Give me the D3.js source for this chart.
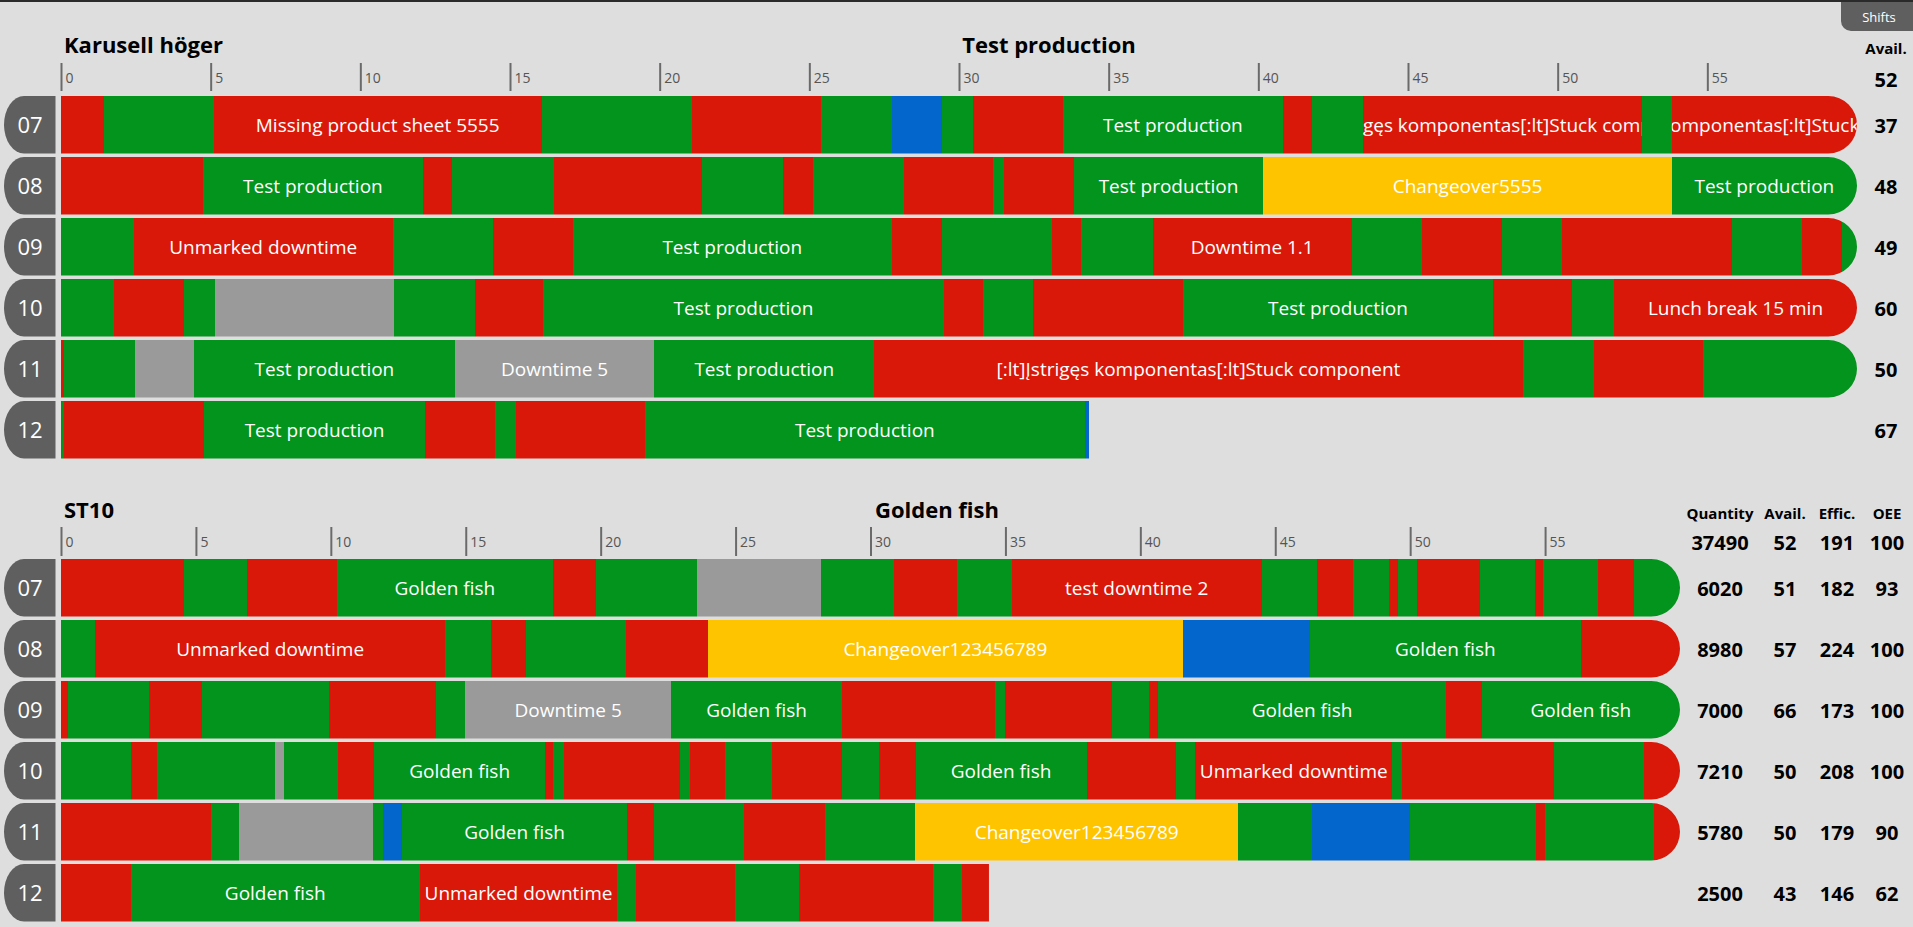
<!DOCTYPE html>
<html><head><meta charset="utf-8">
<script src="https://cdn.jsdelivr.net/npm/d3@7"></script>
<style>
html,body{margin:0;padding:0;background:#dedede;overflow:hidden;}
svg{display:block;font-family:"Open Sans","Noto Sans",sans-serif;}
</style></head><body>
<svg id="chart" width="1913" height="927"></svg>
<script>
// ---------- DATA ----------
const hours = ["07","08","09","10","11","12"];
const tickValues = [0,5,10,15,20,25,30,35,40,45,50,55];
const stateColors = {P:"#02941c", D:"#d9180a", C:"#ffc400", M:"#0366cc", S:"#9a9a9a"};
const TP = "Test production", GF = "Golden fish", UD = "Unmarked downtime";
const STUCK = "[:lt]Įstrigęs komponentas[:lt]Stuck component";

// Karusell höger – segments [startMin, endMin, state, label]
const k07 = [[0,1.44,"D"],[1.44,5.1,"P"],[5.1,16.06,"D","Missing product sheet 5555"],[16.06,21.07,"P"],[21.07,25.4,"D"],[25.4,27.76,"P"],[27.76,29.42,"M"],[29.42,30.46,"P"],[30.46,33.47,"D"],[33.47,40.82,"P",TP],[40.82,41.78,"D"],[41.78,43.48,"P"],[43.48,52.81,"D",STUCK],[52.81,53.81,"P"],[53.81,60,"D",STUCK]];
const k08 = [[0,4.74,"D"],[4.74,12.09,"P",TP],[12.09,13.07,"D"],[13.07,16.46,"P"],[16.46,21.43,"D"],[21.43,24.12,"P"],[24.12,25.12,"D"],[25.12,28.15,"P"],[28.15,31.13,"D"],[31.13,31.5,"P"],[31.5,33.83,"D"],[33.83,40.17,"P",TP],[40.17,53.81,"C","Changeover5555"],[53.81,60,"P",TP]];
const k09 = [[0,2.43,"P"],[2.43,11.08,"D",UD],[11.08,14.42,"P"],[14.42,17.09,"D"],[17.09,27.76,"P",TP],[27.76,29.42,"D"],[29.42,33.12,"P"],[33.12,34.08,"D"],[34.08,36.47,"P"],[36.47,43.12,"D","Downtime 1.1"],[43.12,45.46,"P"],[45.46,48.13,"D"],[48.13,50.14,"P"],[50.14,55.82,"D"],[55.82,58.16,"P"],[58.16,59.49,"D"],[59.49,60,"P"]];
const k10 = [[0,1.77,"P"],[1.77,4.1,"D"],[4.1,5.14,"P"],[5.14,11.12,"S"],[11.12,13.82,"P"],[13.82,16.11,"D"],[16.11,29.49,"P",TP],[29.49,30.81,"D"],[30.81,32.48,"P"],[32.48,37.48,"D"],[37.48,47.84,"P",TP],[47.84,50.49,"D"],[50.49,51.88,"P"],[51.88,60,"D","Lunch break 15 min"]];
const k11 = [[0,0.1,"D"],[0.1,2.48,"P"],[2.48,4.44,"S"],[4.44,13.16,"P",TP],[13.16,19.82,"S","Downtime 5"],[19.82,27.17,"P",TP],[27.17,48.83,"D",STUCK],[48.83,51.21,"P"],[51.21,54.85,"D"],[54.85,60,"P"]];
const k12 = [[0,0.1,"P"],[0.1,4.78,"D"],[4.78,12.16,"P",TP],[12.16,14.49,"D"],[14.49,15.2,"P"],[15.2,19.5,"D"],[19.5,34.21,"P",TP],[34.21,34.35,"M"]];
const karusellAvailTotal = 52;
const karusellAvail = [37,48,49,60,50,67];

// ST10
const s07 = [[0,4.55,"D"],[4.55,6.91,"P"],[6.91,10.23,"D"],[10.23,18.22,"P",GF],[18.22,19.84,"D"],[19.84,23.57,"P"],[23.57,28.18,"S"],[28.18,30.87,"P"],[30.87,33.21,"D"],[33.21,35.23,"P"],[35.23,44.5,"D","test downtime 2"],[44.5,46.56,"P"],[46.56,47.89,"D"],[47.89,49.22,"P"],[49.22,49.54,"D"],[49.54,50.27,"P"],[50.27,52.59,"D"],[52.59,54.61,"P"],[54.61,54.92,"D"],[54.92,56.97,"P"],[56.97,58.3,"D"],[58.3,60,"P"]];
const s08 = [[0,1.26,"P"],[1.26,14.24,"D",UD],[14.24,15.93,"P"],[15.93,17.25,"D"],[17.25,20.93,"P"],[20.93,23.97,"D"],[23.97,41.58,"C","Changeover123456789"],[41.58,46.27,"M"],[46.27,56.34,"P",GF],[56.34,60,"D"]];
const s09 = [[0,0.25,"D"],[0.25,3.25,"P"],[3.25,5.24,"D"],[5.24,9.92,"P"],[9.92,13.91,"D"],[13.91,14.98,"P"],[14.98,22.61,"S","Downtime 5"],[22.61,28.95,"P",GF],[28.95,34.61,"D"],[34.61,34.99,"P"],[34.99,38.95,"D"],[38.95,40.32,"P"],[40.32,40.66,"D"],[40.66,51.33,"P",GF],[51.33,52.65,"D"],[52.65,60,"P",GF]];
const s10 = [[0,2.59,"P"],[2.59,3.56,"D"],[3.56,7.93,"P"],[7.93,8.27,"S"],[8.27,10.27,"P"],[10.27,11.61,"D"],[11.61,17.94,"P",GF],[17.94,18.25,"D"],[18.25,18.63,"P"],[18.63,22.94,"D"],[22.94,23.32,"P"],[23.32,24.62,"D"],[24.62,26.34,"P"],[26.34,28.96,"D"],[28.96,30.33,"P"],[30.33,31.67,"D"],[31.67,38.01,"P",GF],[38.01,41.32,"D"],[41.32,42.04,"P"],[42.04,49.33,"D",UD],[49.33,49.69,"P"],[49.69,55.34,"D"],[55.34,58.66,"P"],[58.66,60,"D"]];
const s11 = [[0,5.56,"D"],[5.56,6.6,"P"],[6.6,11.56,"S"],[11.56,11.93,"P"],[11.93,12.64,"M"],[12.64,20.98,"P",GF],[20.98,21.98,"D"],[21.98,25.32,"P"],[25.32,28.31,"D"],[28.31,31.65,"P"],[31.65,43.63,"C","Changeover123456789"],[43.63,46.35,"P"],[46.35,50,"M"],[50,54.67,"P"],[54.67,54.98,"D"],[54.98,59.02,"P"],[59.02,60,"D"]];
const s12 = [[0,2.59,"D"],[2.59,13.29,"P",GF],[13.29,20.62,"D",UD],[20.62,21.31,"P"],[21.31,24.98,"D"],[24.98,27.36,"P"],[27.36,32.33,"D"],[32.33,33.39,"P"],[33.39,34.39,"D"]];
const st10Columns = ["Quantity","Avail.","Effic.","OEE"];
const st10Totals = [37490,52,191,100];
const st10Quantity = [6020,8980,7000,7210,5780,2500];
const st10Avail = [51,57,66,50,50,43];
const st10Effic = [182,224,173,208,179,146];
const st10OEE = [93,100,100,100,90,62];

// ---------- DRAW ----------
const svg = d3.select("#chart");
svg.append("rect").attr("width",1913).attr("height",927).attr("fill","#dedede");
svg.append("rect").attr("width",1913).attr("height",2).attr("fill","#2a2a2a");
// Shifts tab
svg.append("path").attr("d","M1841,2 H1913 V31 H1851 A10,10 0 0 1 1841,21 Z").attr("fill","#5f5f5f");
svg.append("text").attr("x",1879).attr("y",22).attr("text-anchor","middle").attr("fill","#fff")
  .style("font-size","13px").text("Shifts");

let clipId = 0;
function drawPanel(p){
  const g = svg.append("g");
  const x = d3.scaleLinear().domain([0,60]).range([61, p.xEnd]);
  const y = d3.scaleBand().domain(hours).range([p.rowTop, p.rowTop + 61*6 - 3.5]).paddingInner(3.5/61).paddingOuter(0);
  const bh = y.bandwidth();

  g.append("text").attr("x",64).attr("y",p.titleY).style("font-weight","700").style("font-size","22px").attr("fill","#000").text(p.name);
  g.append("text").attr("x",p.titleX).attr("y",p.titleY).attr("text-anchor","middle").style("font-weight","700").style("font-size","22px").attr("fill","#000").text(p.title);

  const ax = g.append("g").attr("transform",`translate(0,${p.axisY})`)
    .call(d3.axisBottom(x).tickValues(tickValues).tickSize(p.tickLen).tickFormat(d3.format("d")));
  ax.select(".domain").remove();
  ax.selectAll(".tick line").attr("stroke","#6a6a6a").attr("stroke-width",2);
  ax.selectAll(".tick text").attr("x",4).attr("y",20).attr("dy","0").attr("text-anchor","start")
    .attr("fill","#555").style("font-size","14px").style("font-family",'"Open Sans",sans-serif');

  p.rows.forEach((segs,i)=>{
    const hr = hours[i];
    const y0 = y(hr);
    // hour pill
    g.append("path").attr("d",`M55.5,${y0} H24 A20,${bh/2} 0 0 0 24,${y0+bh} H55.5 Z`).attr("fill","#5f5f5f");
    g.append("text").attr("x",30).attr("y",y0+bh/2+8.5).attr("text-anchor","middle").attr("fill","#fff")
      .style("font-size","22px").text(hr);

    const last = segs[segs.length-1][1];
    const x0 = x(0), x1 = x(last), r = bh/2;
    const rowClip = "rc"+(clipId++);
    const cp = svg.append("clipPath").attr("id",rowClip);
    if(last >= 60){
      cp.append("path").attr("d",`M${x0},${y0} H${x1-r} A${r},${r} 0 0 1 ${x1-r},${y0+bh} H${x0} Z`);
    } else {
      cp.append("rect").attr("x",x0).attr("y",y0).attr("width",x1-x0).attr("height",bh);
    }
    const rg = g.append("g").attr("clip-path",`url(#${rowClip})`);
    rg.selectAll("rect").data(segs).join("rect")
      .attr("x",d=>x(d[0])).attr("y",y0).attr("width",d=>Math.max(0,x(d[1])-x(d[0]))).attr("height",bh)
      .attr("fill",d=>stateColors[d[2]]).attr("shape-rendering","crispEdges");
    segs.filter(d=>d[3]).forEach(d=>{
      const id = "tc"+(clipId++);
      svg.append("clipPath").attr("id",id).append("rect")
        .attr("x",x(d[0])).attr("y",y0).attr("width",x(d[1])-x(d[0])).attr("height",bh);
      rg.append("g").attr("clip-path",`url(#${id})`).append("text")
        .attr("x",(x(d[0])+x(d[1]))/2).attr("y",y0+bh/2+7.5).attr("text-anchor","middle")
        .attr("fill","#fff").style("font-size","19px").text(d[3]);
    });
  });

  // right columns
  p.columns.forEach((c,ci)=>{
    g.append("text").attr("x",p.colX[ci]).attr("y",p.headY).attr("text-anchor","middle")
      .style("font-weight","700").style("font-size","15px").attr("fill","#000").text(c.name);
    g.append("text").attr("x",p.colX[ci]).attr("y",p.totalY).attr("text-anchor","middle")
      .style("font-weight","700").style("font-size","20px").attr("fill","#000").text(c.total);
    c.values.forEach((v,i)=>{
      g.append("text").attr("x",p.colX[ci]).attr("y",y(hours[i])+bh/2+8).attr("text-anchor","middle")
        .style("font-weight","700").style("font-size","20px").attr("fill","#000").text(v);
    });
  });
}

drawPanel({
  name:"Karusell höger", title:"Test production", titleX:1049, titleY:53,
  axisY:63, tickLen:28, rowTop:96, xEnd:1857,
  rows:[k07,k08,k09,k10,k11,k12],
  columns:[{name:"Avail.", total:karusellAvailTotal, values:karusellAvail}],
  colX:[1886], headY:54, totalY:87
});
drawPanel({
  name:"ST10", title:"Golden fish", titleX:937, titleY:518,
  axisY:527, tickLen:29, rowTop:559, xEnd:1680,
  rows:[s07,s08,s09,s10,s11,s12],
  columns:st10Columns.map((n,i)=>({name:n, total:st10Totals[i], values:[st10Quantity,st10Avail,st10Effic,st10OEE][i]})),
  colX:[1720,1785,1837,1887], headY:519, totalY:550
});
</script>
</body></html>
